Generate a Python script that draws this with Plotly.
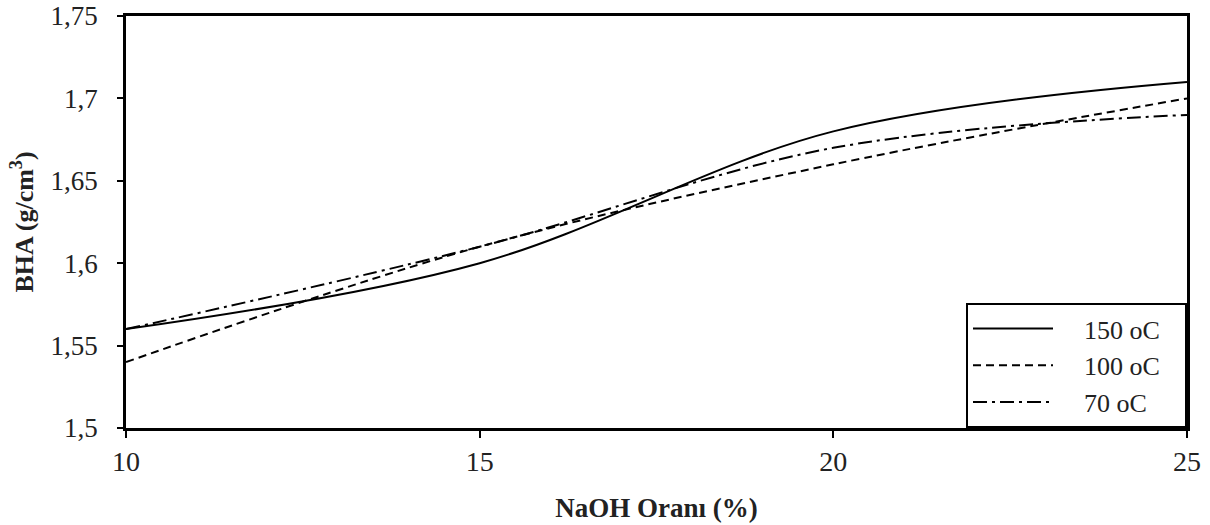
import plotly.graph_objects as go

naoh = [10, 15, 20, 25]
bha_150 = [1.56, 1.60, 1.68, 1.71]
bha_100 = [1.54, 1.61, 1.66, 1.70]
bha_70 = [1.56, 1.61, 1.67, 1.69]

series_names = ["150 oC", "100 oC", "70 oC"]
x_ticks = [10, 15, 20, 25]
x_ticktext = ["10", "15", "20", "25"]
y_ticks = [1.5, 1.55, 1.6, 1.65, 1.7, 1.75]
y_ticktext = ["1,5", "1,55", "1,6", "1,65", "1,7", "1,75"]

FONT = "Liberation Serif"
LEAD = "\u00a0" * 4   # invisible gap between legend sample and text
TRAIL = "\u00a0" * 3  # invisible space to widen the legend box

fig = go.Figure()
styles = [
    ("solid", bha_150),
    ("8px,5px", bha_100),
    ("14px,5px,3px,5px", bha_70),
]
for name, (dash, vals) in zip(series_names, styles):
    fig.add_trace(go.Scatter(
        x=naoh, y=vals, name=LEAD + name + TRAIL, mode="lines",
        line=dict(color="black", width=2, dash=dash, shape="spline", smoothing=1.0),
    ))

fig.update_layout(
    width=1210, height=525,
    margin=dict(l=126, r=23, t=16, b=97, autoexpand=False),
    paper_bgcolor="white", plot_bgcolor="white",
    font=dict(family=FONT, color="black", size=27),
    showlegend=True,
    legend=dict(
        x=1, y=0, xanchor="right", yanchor="bottom",
        bordercolor="black", borderwidth=2, bgcolor="white",
        font=dict(family=FONT, size=26, color="#222"),
        itemwidth=80, tracegroupgap=0,
    ),
)
fig.update_xaxes(
    range=[10, 25], tickvals=x_ticks, ticktext=x_ticktext, automargin=False,
    showline=True, linecolor="black", linewidth=2.5, mirror=True,
    ticks="outside", ticklen=7, tickwidth=2, tickcolor="black",
    showgrid=False, zeroline=False, ticklabeloverflow="allow",
    tickfont=dict(family=FONT, size=28, color="#222"),
    title=dict(text="<b>NaOH Oranı (%)</b>", font=dict(family=FONT, size=27, color="#222"), standoff=22),
)
fig.update_yaxes(
    range=[1.5, 1.75], tickvals=y_ticks, ticktext=y_ticktext, automargin=False,
    showline=True, linecolor="black", linewidth=2.5, mirror=True,
    ticks="outside", ticklen=6, tickwidth=2, tickcolor="black",
    showgrid=False, zeroline=False, ticklabelstandoff=14, ticklabeloverflow="allow",
    tickfont=dict(family=FONT, size=27, color="#222"),
    title=dict(text="<b>BHA (g/cm<sup>3</sup>)</b>", font=dict(family=FONT, size=26, color="#222"), standoff=10),
)

fig.write_html(
    "out.html",
    config={"displayModeBar": False},
    post_script="document.body.style.margin='0';document.body.style.padding='0';",
)
